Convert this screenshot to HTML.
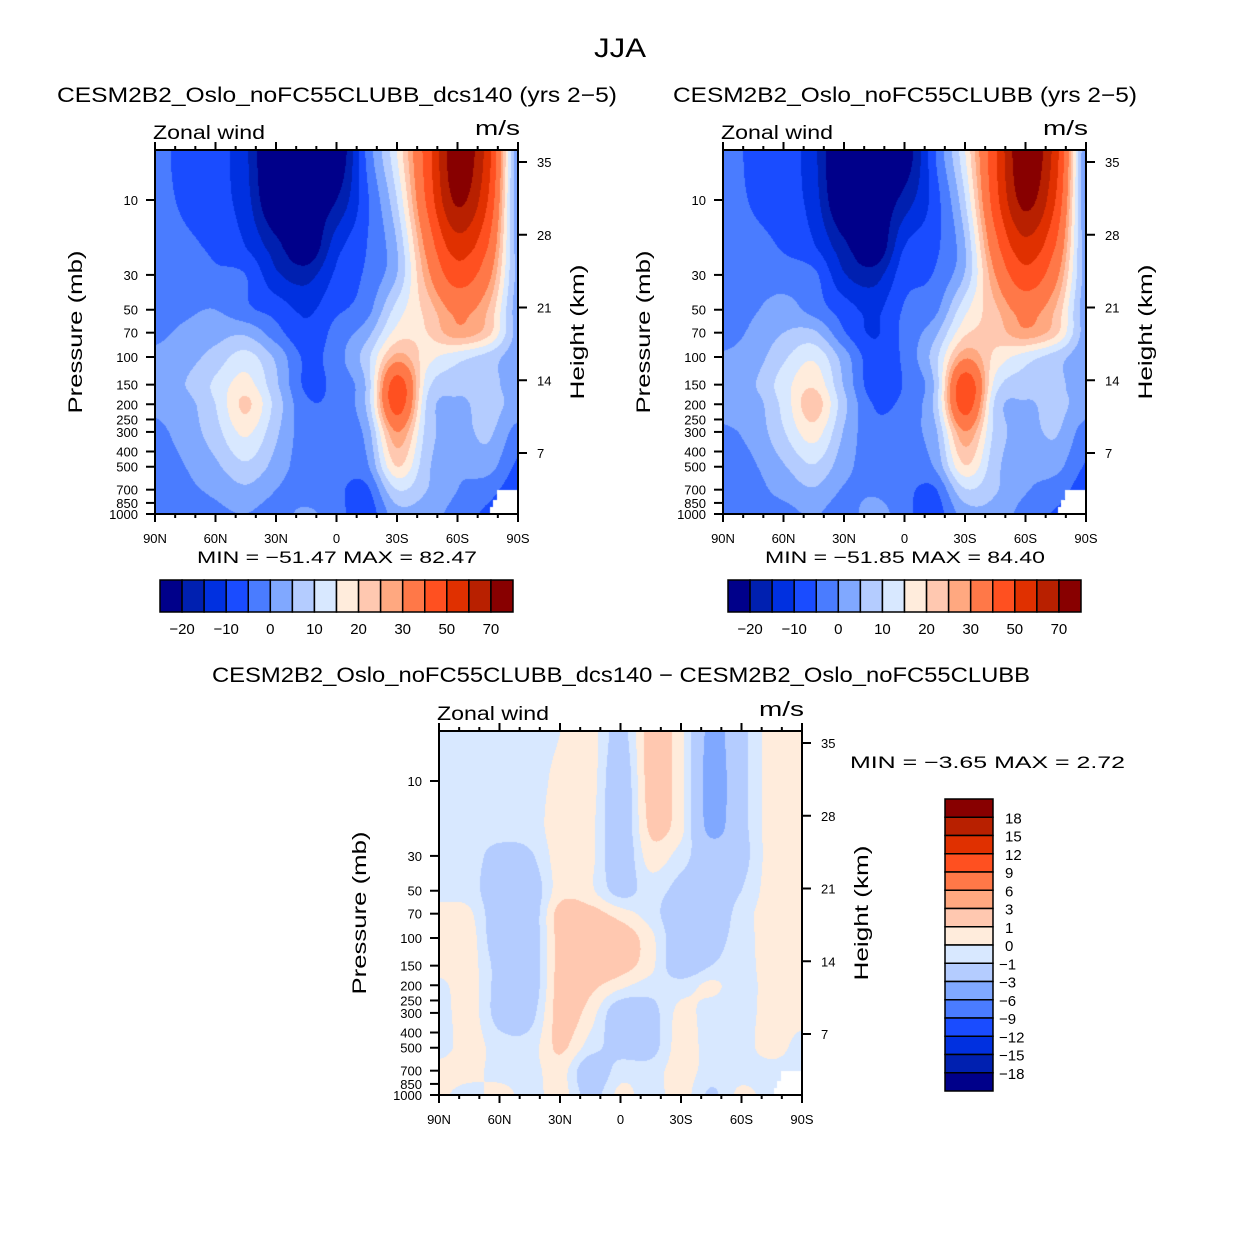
<!DOCTYPE html>
<html><head><meta charset="utf-8">
<style>
html,body{margin:0;padding:0;background:#fff;}
#wrap{position:relative;width:1242px;height:1244px;overflow:hidden;background:#fff;}
canvas{position:absolute;}
svg{position:absolute;left:0;top:0;}
text{font-family:"Liberation Sans",sans-serif;fill:#000;}
</style></head>
<body>
<div id="wrap">
<canvas id="cA" width="363" height="364" style="left:155px;top:150px"></canvas>
<canvas id="cB" width="363" height="364" style="left:723px;top:150px"></canvas>
<canvas id="cC" width="363" height="364" style="left:439px;top:731px"></canvas>
<svg id="ov" width="1242" height="1244"></svg>
</div>
<script>
// ---------- data ----------
const latLabels = ['90N','60N','30N','0','30S','60S','90S'];
const gridLats = [90,75,60,45,30,15,0,-15,-30,-45,-60,-75,-90];
const gridPres = [5,10,20,30,50,70,100,150,200,300,500,700,1000];
const presTicks = [10,30,50,70,100,150,200,250,300,400,500,700,850,1000];
const heightTicks = [35,28,21,14,7];
const mainLevels = [-20,-15,-10,-5,0,5,10,15,20,25,30,40,50,60,70];
const mainBarLabels = ['-20','-10','0','10','20','30','50','70'];
const diffLevels = [-18,-15,-12,-9,-6,-3,-1,0,1,3,6,9,12,15,18];
const diffBarLabels = ['18','15','12','9','6','3','1','0','-1','-3','-6','-9','-12','-15','-18'];
const palette = ['#00008a','#0020b0','#0030e0','#1a4cff','#4a7cff','#80a8ff','#b4ccff','#d8e8ff','#ffecdc','#ffc8b0','#ffa880','#ff7848','#ff5020','#e03000','#b82000','#880000'];

// zonal wind, case dcs140 (rows = pressure levels, cols = latitudes 90N..90S)
const dcs_p5    = [-3,-7,-8,-14,-30,-28,-26,-4,15,45,78,55,0];
const dcs_p10   = [-3,-6,-8,-13,-27,-25,-20,-6,10,42,72,50,0];
const dcs_p20   = [-2,-4,-6,-10,-18,-25,-12,-5,5,33,55,40,2];
const dcs_p30   = [-2,-3,-4,-5,-14,-17,-9,-4,5,28,45,33,3];
const dcs_p50   = [-2,-1,0,-4,-7,-11,-6,-2,12,22,32,25,2];
const dcs_p70   = [-1,1,3,4,-3,-9,-3,3,17,20,28,22,3];
const dcs_p100  = [1,3,7,12,4,-6,-2,8,27,17,12,8,2];
const dcs_p150  = [3,5,11,17,6,-6,-3,6,45,12,7,7,2];
const dcs_p200  = [1,3,10,21,8,-4,-3,6,45,9,4,7,3];
const dcs_p300  = [-1,2,8,16,6,-3,-3,2,30,8,3,6,-2];
const dcs_p500  = [-2,0,4,9,3,-3,-3,-1,20,6,1,2,-6];
const dcs_p700  = [-3,-1,1,4,0,-3,-4,-6,10,5,0,-3,-8];
const dcs_p1000 = [-3,-2,-1,0,-2,1,-3,-8,3,2,-2,-6,-8];

// difference dcs140 - control
const diff_p5    = [-0.5,-0.8,-0.5,-0.5,0,0.5,-1.5,1.5,0.3,-3.5,-1.5,0.5,0.5];
const diff_p10   = [-0.5,-0.5,-0.5,-0.5,0.3,0.5,-2,1.5,0.3,-3.8,-1.5,0.5,0.5];
const diff_p20   = [-0.5,-0.5,-0.5,-0.5,0.5,0.3,-2,1.2,0.3,-3.5,-1.5,0.5,0.5];
const diff_p30   = [-0.5,-0.5,-1.5,-1.2,0.5,0.3,-2,0.5,-0.5,-2,-1.5,0.5,0.5];
const diff_p50   = [-0.5,-0.5,-2,-2,0.5,0.2,-1.5,-0.5,-1.5,-2,-1,0.5,0.5];
const diff_p70   = [0.5,0.2,-2,-2,1.5,1.5,0.5,-0.5,-2,-2,-0.5,0.5,0.5];
const diff_p100  = [0.5,0.5,-2,-2,1.5,2.2,1.8,0.3,-2,-1.5,-0.5,0.5,0.5];
const diff_p150  = [0.5,0.5,-1.5,-2,1.5,2,1.5,0.3,-2,-1,-0.5,0.5,0.5];
const diff_p200  = [-0.3,0.5,-1.5,-2,1.5,1.3,0.3,-0.5,-0.5,0.2,-0.5,0.5,0.5];
const diff_p300  = [-0.5,0.5,-1.5,-1.5,1.5,0.5,-2,-1.5,0.3,-0.5,-0.5,0.5,0.5];
const diff_p500  = [-0.5,0.5,-0.5,-0.5,1.2,-0.5,-1.5,-1.5,0.5,-0.5,-0.5,0.5,-0.5];
const diff_p700  = [0.5,0.5,-0.5,-0.5,0.5,-2,-0.5,-0.5,0.5,-0.5,-0.5,-0.5,-0.5];
const diff_p1000 = [0.3,-0.5,0.5,-0.5,0.5,-1.5,0.3,-0.5,0.5,-1.2,0.3,-0.5,-0.5];

const dcsField = [dcs_p5,dcs_p10,dcs_p20,dcs_p30,dcs_p50,dcs_p70,dcs_p100,dcs_p150,dcs_p200,dcs_p300,dcs_p500,dcs_p700,dcs_p1000];
const diffField = [diff_p5,diff_p10,diff_p20,diff_p30,diff_p50,diff_p70,diff_p100,diff_p150,diff_p200,diff_p300,diff_p500,diff_p700,diff_p1000];
const ctlField = dcsField.map((r,i)=>r.map((v,j)=>v-diffField[i][j]));

// ---------- axis functions ----------
const PW=363, PH=364;
function xOfLat(lat){return (90-lat)/180*PW;}
function yOfP(p){return 157*(Math.log10(p)-1)+50;}
function yOfKm(km){return 12+(35-km)*(291/28);}

function cr(arr,f){
  const n=arr.length;let i=Math.floor(f);if(i<0)i=0;if(i>n-2)i=n-2;const t=f-i;
  const p0=arr[Math.max(i-1,0)],p1=arr[i],p2=arr[i+1],p3=arr[Math.min(i+2,n-1)];
  return 0.5*((2*p1)+(-p0+p2)*t+(2*p0-5*p1+4*p2-p3)*t*t+(-p0+3*p1-3*p2+p3)*t*t*t);
}
const rowY = gridPres.map(yOfP);
const colX = gridLats.map(xOfLat);
function frac(pos,arr){
  if(pos<=arr[0])return 0;
  for(let j=0;j<arr.length-1;j++){if(pos<=arr[j+1])return j+(pos-arr[j])/(arr[j+1]-arr[j]);}
  return arr.length-1;
}
function hex(c){return [parseInt(c.slice(1,3),16),parseInt(c.slice(3,5),16),parseInt(c.slice(5,7),16)];}
const palRGB = palette.map(hex);
function drawField(id,field,levels){
  const cv=document.getElementById(id),ctx=cv.getContext('2d');
  const img=ctx.createImageData(PW,PH);
  const colF=[];for(let x=0;x<PW;x++)colF.push(frac(x+0.5,colX));
  for(let y=0;y<PH;y++){
    const g=frac(y+0.5,rowY);
    for(let x=0;x<PW;x++){
      const f=colF[x];
      const rv=field.map(r=>cr(r,f));
      const v=cr(rv,g);
      let k=0;while(k<levels.length&&v>=levels[k])k++;
      const c=palRGB[k],o=(y*PW+x)*4;
      img.data[o]=c[0];img.data[o+1]=c[1];img.data[o+2]=c[2];img.data[o+3]=255;
    }
  }
  ctx.putImageData(img,0,0);
  ctx.fillStyle='#fff';
  ctx.fillRect(342,340,21,24);ctx.fillRect(338,350,5,14);ctx.fillRect(335,357,4,7);
}
drawField('cA',dcsField,mainLevels);
drawField('cB',ctlField,mainLevels);
drawField('cC',diffField,diffLevels);

// ---------- overlay ----------
const NS='http://www.w3.org/2000/svg';
const ov=document.getElementById('ov');
function el(tag,attrs,parent){const e=document.createElementNS(NS,tag);for(const k in attrs)e.setAttribute(k,attrs[k]);(parent||ov).appendChild(e);return e;}
function txt(s,x,y,size,anchor,len,parent){
  const a={x:x,y:y,'font-size':size,'text-anchor':anchor||'start'};
  if(len){a.textLength=len;a.lengthAdjust='spacingAndGlyphs';}
  const t=el('text',a,parent);t.textContent=s;return t;
}
function t1(s,x,y,size,anchor,len,name,parent){
  const t=txt(s,x,y,size,anchor,len,parent);
  
  
  return t;
}
function drawAxes(x0,y0,pfx){
  const g=el('g',{});
  
  
  for(let lat=90;lat>=-90;lat-=10){
    const x=x0+xOfLat(lat),major=(lat%30===0);
    const L=major?8:4;
    el('line',{x1:x,x2:x,y1:y0,y2:y0-L,stroke:'#000','stroke-width':2},g);
    el('line',{x1:x,x2:x,y1:y0+PH,y2:y0+PH+L,stroke:'#000','stroke-width':2},g);
  }
  latLabels.forEach((s,i)=>{
    const lat=90-30*i;
    t1(s.replace('-','−'),x0+xOfLat(lat),y0+PH+29,13,'middle',null,pfx+'-lat-label',g);
  });
  presTicks.forEach(p=>{
    const y=y0+yOfP(p);
    el('line',{x1:x0-9,x2:x0,y1:y,y2:y,stroke:'#000','stroke-width':2},g);
    t1(String(p),x0-17,y+5,13,'end',null,pfx+'-pressure-label',g);
  });
  heightTicks.forEach(k=>{
    const y=y0+yOfKm(k);
    el('line',{x1:x0+PW,x2:x0+PW+9,y1:y,y2:y,stroke:'#000','stroke-width':2},g);
    t1(String(k),x0+PW+19,y+5,13,'start',null,pfx+'-height-label',g);
  });
  el('rect',{x:x0,y:y0,width:PW,height:PH,fill:'none',stroke:'#000','stroke-width':2},g);
  t1('Zonal wind',x0-2,y0-11,19,'start',112,pfx+'-variable-label',g);
  t1('m/s',x0+PW-43,y0-15,20,'start',45,pfx+'-units-label',g);
  const py=y0+PH/2, px=x0-73;
  const a=t1('Pressure  (mb)',px,py,19,'middle',163,pfx+'-y-axis-title',g);
  a.setAttribute('transform','rotate(-90 '+px+' '+py+')');
  const hx=x0+PW+66, hy=y0+PH/2;
  const b=t1('Height  (km)',hx,hy,19,'middle',135,pfx+'-y2-axis-title',g);
  b.setAttribute('transform','rotate(-90 '+hx+' '+hy+')');
}
drawAxes(155,150,'plot-dcs140');
drawAxes(723,150,'plot-control');
drawAxes(439,731,'plot-difference');

t1('JJA',620,57,27,'middle',52,'figure-title');
t1('CESM2B2_Oslo_noFC55CLUBB_dcs140  (yrs  2−5)',57,102,21,'start',560,'plot-dcs140-title');
t1('CESM2B2_Oslo_noFC55CLUBB  (yrs  2−5)',673,102,21,'start',464,'plot-control-title');
t1('CESM2B2_Oslo_noFC55CLUBB_dcs140  −  CESM2B2_Oslo_noFC55CLUBB',212,682,21,'start',818,'plot-difference-title');
t1('MIN  =  −51.47    MAX  =    82.47',197,563,17,'start',280,'plot-dcs140-minmax');
t1('MIN  =  −51.85    MAX  =    84.40',765,563,17,'start',280,'plot-control-minmax');
t1('MIN  =     −3.65    MAX  =      2.72',850,768,17,'start',275,'plot-difference-minmax');

function hbar(x0,name){
  const g=el('g',{});
  
  
  const w=353/16;
  palette.forEach((c,i)=>{
    const r=el('rect',{x:x0+i*w,y:580,width:w,height:32,fill:c,stroke:'#000','stroke-width':1.5},g);
    
    
  });
  mainBarLabels.forEach((s,i)=>{
    t1(s.replace('-','−'),x0+(1+2*i)*w,634,15,'middle',null,'colorbar-label',g);
  });
}
hbar(160,'plot-dcs140-colorbar');
hbar(728,'plot-control-colorbar');
(function(){
  const g=el('g',{});
  
  
  const h=292/16;
  palette.slice().reverse().forEach((c,i)=>{
    const r=el('rect',{x:945,y:799+i*h,width:48,height:h,fill:c,stroke:'#000','stroke-width':1.5},g);
    
    
  });
  diffBarLabels.forEach((s,i)=>{
    const neg=s[0]==='-';
    t1(s.replace('-','−'),neg?999:1005,799+(i+1)*h+6,15,'start',null,'colorbar-label',g);
  });
})();
</script>
</body></html>
